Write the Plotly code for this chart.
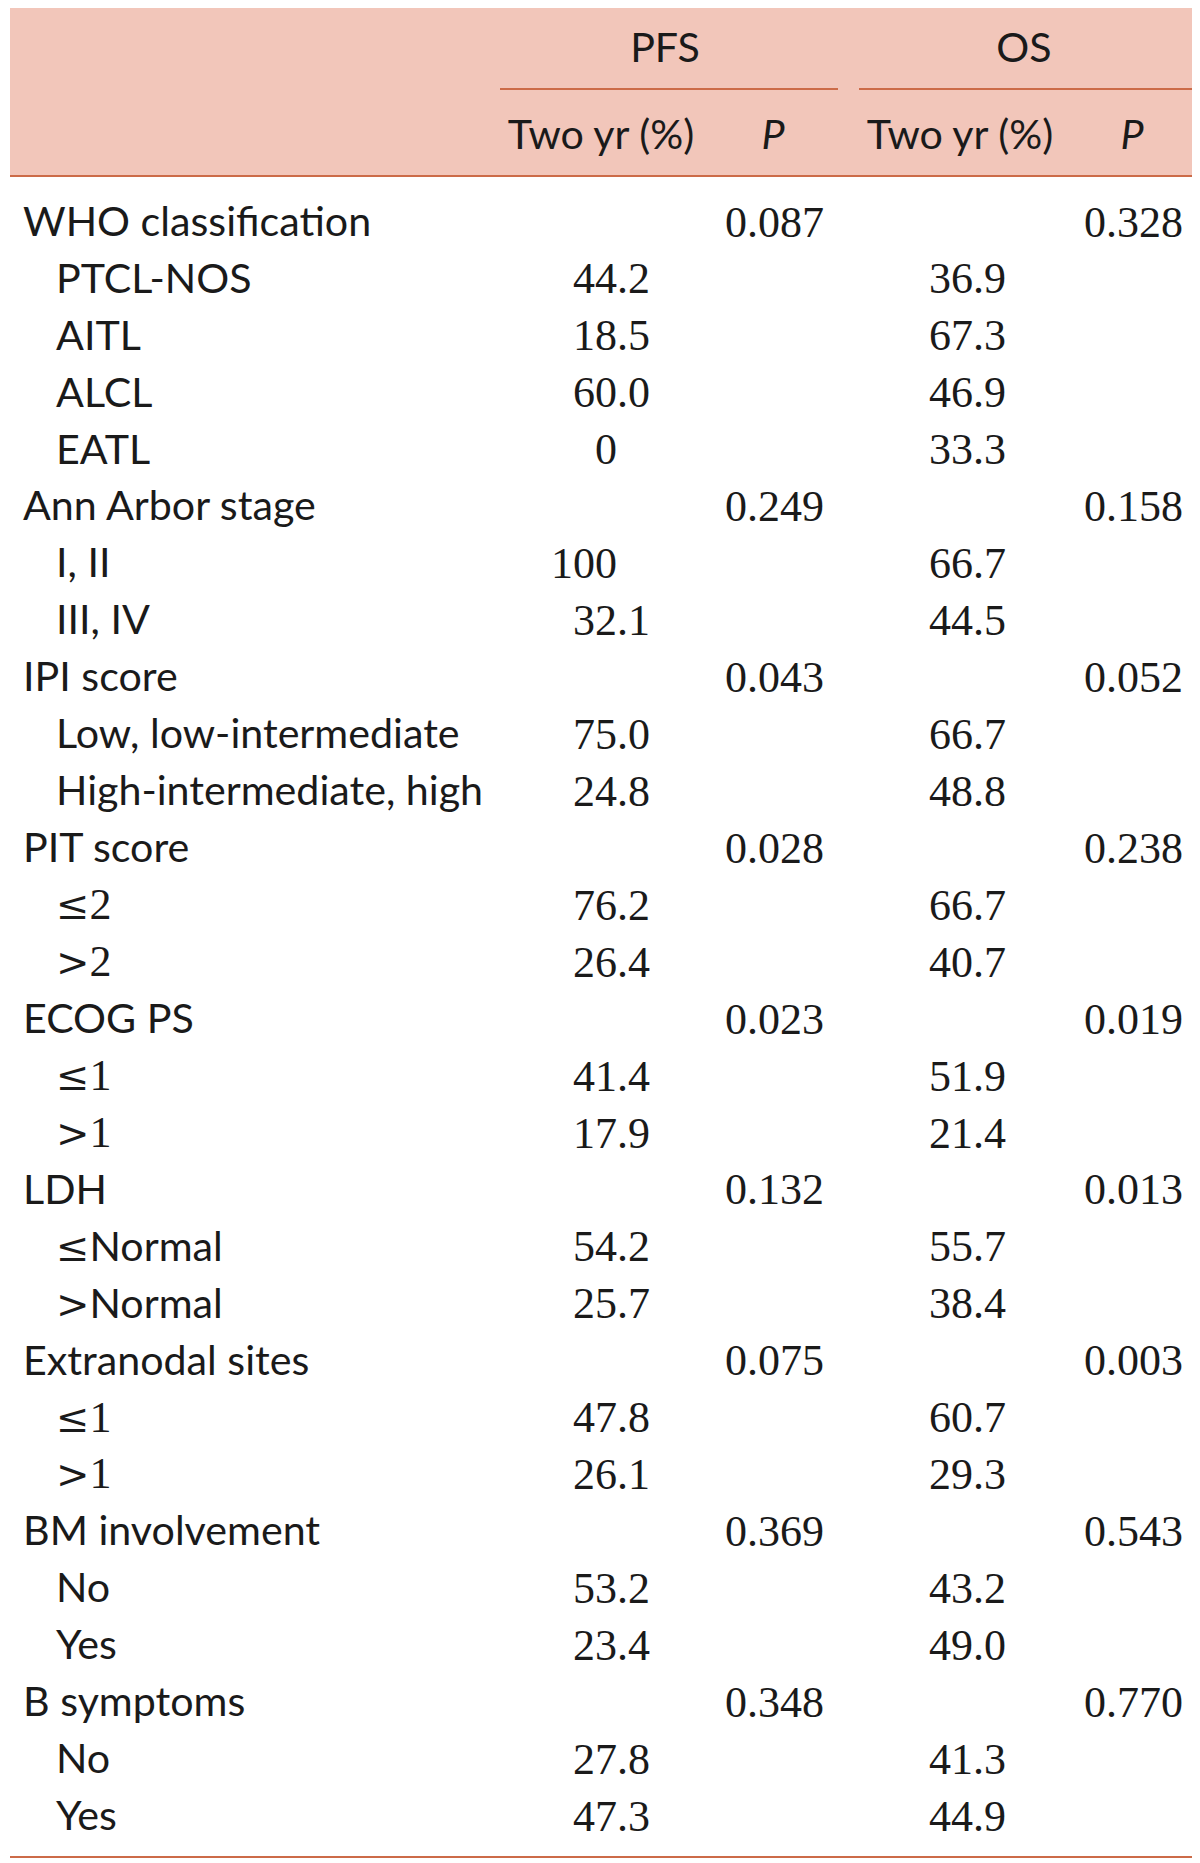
import plotly.graph_objects as go

# ---------------- data ----------------
group_names = ["WHO classification", "Ann Arbor stage", "IPI score", "PIT score",
               "ECOG PS", "LDH", "Extranodal sites", "BM involvement", "B symptoms"]
group_pfs_p = ["0.087", "0.249", "0.043", "0.028", "0.023", "0.132", "0.075", "0.369", "0.348"]
group_os_p = ["0.328", "0.158", "0.052", "0.238", "0.019", "0.013", "0.003", "0.543", "0.770"]
sub_labels = [
    ["PTCL-NOS", "AITL", "ALCL", "EATL"],
    ["I, II", "III, IV"],
    ["Low, low-intermediate", "High-intermediate, high"],
    ["\u22642", ">2"],
    ["\u22641", ">1"],
    ["\u2264Normal", ">Normal"],
    ["\u22641", ">1"],
    ["No", "Yes"],
    ["No", "Yes"],
]
pfs_two_yr = [
    ["44.2", "18.5", "60.0", "0"],
    ["100", "32.1"],
    ["75.0", "24.8"],
    ["76.2", "26.4"],
    ["41.4", "17.9"],
    ["54.2", "25.7"],
    ["47.8", "26.1"],
    ["53.2", "23.4"],
    ["27.8", "47.3"],
]
os_two_yr = [
    ["36.9", "67.3", "46.9", "33.3"],
    ["66.7", "44.5"],
    ["66.7", "48.8"],
    ["66.7", "40.7"],
    ["51.9", "21.4"],
    ["55.7", "38.4"],
    ["60.7", "29.3"],
    ["43.2", "49.0"],
    ["41.3", "44.9"],
]
span_headers = ["PFS", "OS"]
sub_headers = ["Two yr (%)", "P", "Two yr (%)", "P"]

# ---------------- layout constants ----------------
PAGE_OFF = 8  # default HTML body margin
W, H = 1200 - PAGE_OFF, 1863 - PAGE_OFF
ROW0, ROWH = 225.5, 56.94
Y_SPAN_HEAD, Y_SUB_HEAD = 52, 139
X_LABEL, X_INDENT = 23, 56
X_PFS_DEC, X_OS_DEC = 617, 973
X_PFS_P, X_OS_P = 824, 1183
LINE_COL = "#CC6B48"
HEAD_BG = "#F2C6BA"
TXT = "#1a1a1a"
SANS = "Lato, 'Open Sans', sans-serif"
SERIF = "'Liberation Serif', 'DejaVu Serif', serif"
FS_SANS = 41.2
FS_NUM = 44


def fmt_label(s):
    # comparison symbols and digits are set in serif faces, as in the source
    out = ""
    for ch in s:
        if ch in "\u2264>":
            sym = "&gt;" if ch == ">" else ch
            out += f'<span style="font-family:DejaVu Serif;font-size:{FS_NUM - 4}px">{sym}</span>'
        elif ch.isdigit():
            out += f'<span style="font-family:Liberation Serif;font-size:{FS_NUM}px">{ch}</span>'
        else:
            out += ch
    return out


# flatten rows
rows = []  # (label, indent, pfs_val, pfs_p, os_val, os_p)
for g, name in enumerate(group_names):
    rows.append((name, False, "", group_pfs_p[g], "", group_os_p[g]))
    for k, lab in enumerate(sub_labels[g]):
        rows.append((lab, True, pfs_two_yr[g][k], "", os_two_yr[g][k], ""))

ys = [ROW0 + i * ROWH for i in range(len(rows))]

fig = go.Figure()


def add_text(xs, yy, texts, pos, font, size, italic=False):
    fig.add_trace(go.Scatter(
        x=xs, y=yy, text=texts, mode="text", textposition=pos,
        textfont=dict(family=font, size=size, color=TXT,
                      style="italic" if italic else "normal"),
        hoverinfo="skip", showlegend=False, cliponaxis=False))


# labels
add_text([X_INDENT if r[1] else X_LABEL for r in rows], ys, [fmt_label(r[0]) for r in rows],
         "middle right", SANS, FS_SANS)


def split_vals(col_idx):
    ints, fracs = [], []
    for r in rows:
        v = r[col_idx]
        if "." in v:
            a, b = v.split(".")
            ints.append(a)
            fracs.append("." + b)
        else:
            ints.append(v)
            fracs.append("")
    return ints, fracs


for col_idx, xdec in ((2, X_PFS_DEC), (4, X_OS_DEC)):
    ints, fracs = split_vals(col_idx)
    add_text([xdec] * len(rows), ys, ints, "middle left", SERIF, FS_NUM)
    add_text([xdec] * len(rows), ys, fracs, "middle right", SERIF, FS_NUM)

add_text([X_PFS_P] * len(rows), ys, [r[3] for r in rows], "middle left", SERIF, FS_NUM)
add_text([X_OS_P] * len(rows), ys, [r[5] for r in rows], "middle left", SERIF, FS_NUM)

# header
add_text([665, 1024], [Y_SPAN_HEAD] * 2, span_headers, "middle center", SANS, FS_SANS)
add_text([601, 960], [Y_SUB_HEAD] * 2, [sub_headers[0], sub_headers[2]], "middle center", SANS, FS_SANS)
add_text([773, 1132], [Y_SUB_HEAD] * 2, [sub_headers[1], sub_headers[3]], "middle center", SANS, FS_SANS, italic=True)

shapes = [
    dict(type="rect", x0=10, x1=1194, y0=4, y1=176, fillcolor=HEAD_BG, line_width=0, layer="below"),
    dict(type="line", x0=10, x1=1194, y0=4, y1=4, line=dict(color=LINE_COL, width=2)),
    dict(type="line", x0=10, x1=1194, y0=176, y1=176, line=dict(color=LINE_COL, width=2)),
    dict(type="line", x0=500, x1=838, y0=89, y1=89, line=dict(color=LINE_COL, width=2)),
    dict(type="line", x0=859, x1=1194, y0=89, y1=89, line=dict(color=LINE_COL, width=2)),
    dict(type="line", x0=10, x1=1194, y0=1857, y1=1857, line=dict(color=LINE_COL, width=2)),
]

fig.update_layout(
    width=W, height=H, margin=dict(l=0, r=0, t=0, b=0),
    paper_bgcolor="white", plot_bgcolor="white",
    xaxis=dict(range=[PAGE_OFF, 1200], visible=False, fixedrange=True),
    yaxis=dict(range=[1863, PAGE_OFF], visible=False, fixedrange=True),
    shapes=shapes, showlegend=False,
)

fig.write_html("out.html")
